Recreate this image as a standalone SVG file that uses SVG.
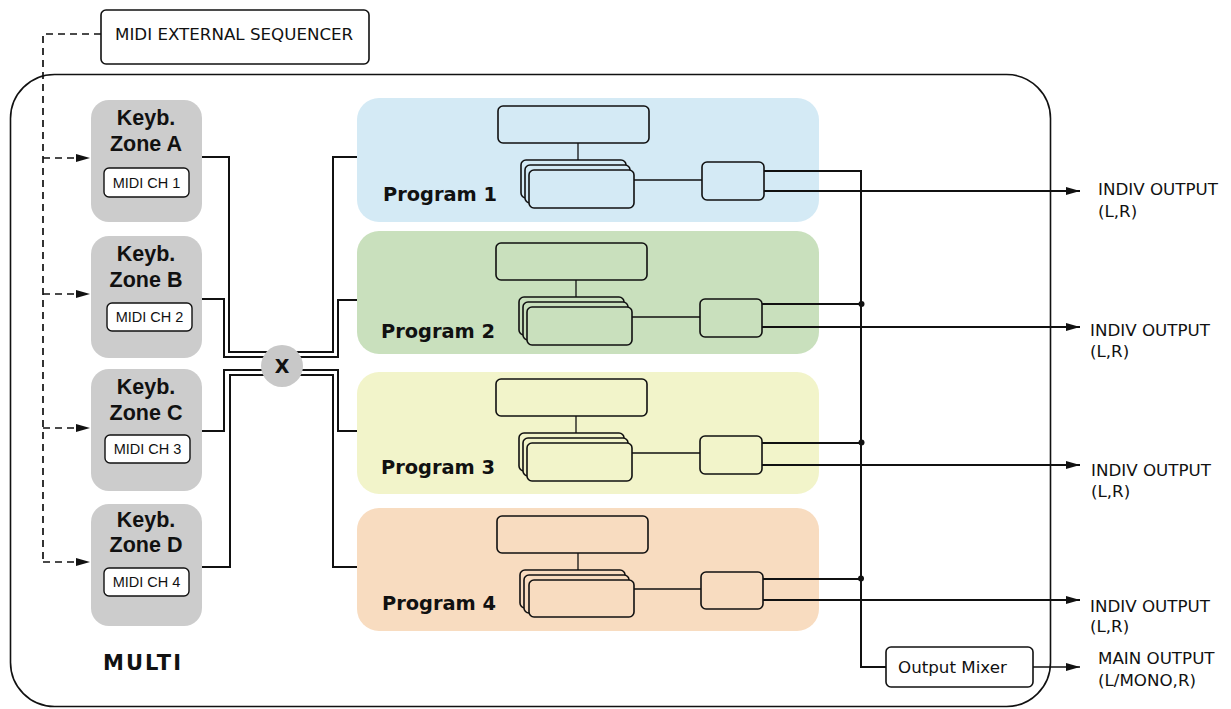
<svg xmlns="http://www.w3.org/2000/svg" width="1231" height="709" viewBox="0 0 1231 709">
<defs>
<style>
.ln{fill:none;stroke:#111;stroke-width:2}
.thin{fill:none;stroke:#111;stroke-width:1.3}
.dash{fill:none;stroke:#111;stroke-width:1.7;stroke-dasharray:7 5}
.box{stroke:#111;stroke-width:1.6}
.zone{fill:#cccccc}
.ch{fill:#fff;stroke:#111;stroke-width:1.4}
.kt{font-family:"Liberation Sans",Arial,sans-serif;font-weight:bold;font-size:21.5px;fill:#111;text-anchor:middle}
.ct{font-family:"Liberation Sans",Arial,sans-serif;font-size:14.5px;fill:#111;text-anchor:middle}
.vt{font-family:"DejaVu Sans",Verdana,sans-serif;font-size:16.7px;fill:#111}
.pt{font-family:"DejaVu Sans",Verdana,sans-serif;font-weight:bold;font-size:19.4px;fill:#111}
</style>
<marker id="ah" viewBox="0 0 14 10" refX="14" refY="5" markerWidth="14" markerHeight="10" markerUnits="userSpaceOnUse" orient="auto">
<path d="M0,1 L14,5 L0,9 Z" fill="#111"/>
</marker>
</defs>
<rect width="1231" height="709" fill="#fff"/>

<g id="multi">
<rect x="10.5" y="74.5" width="1040" height="632" rx="44" ry="44" fill="none" stroke="#111" stroke-width="1.6"/>
<text x="103" y="670" font-family="DejaVu Sans,Verdana,sans-serif" font-weight="bold" font-size="21px" letter-spacing="2" fill="#111">MULTI</text>
</g>

<g id="sequencer">
<rect x="101" y="10" width="268" height="54" rx="5" fill="#fff" stroke="#111" stroke-width="1.6"/>
<text class="vt" x="115" y="40">MIDI EXTERNAL SEQUENCER</text>
</g>

<g id="zoneA">
<rect class="zone" x="91" y="100" width="111" height="122" rx="18"/>
<text class="kt" x="146" y="125">Keyb.</text>
<text class="kt" x="146" y="151">Zone A</text>
<rect class="ch" x="104" y="168" width="85" height="29" rx="5"/>
<text class="ct" x="146.5" y="188">MIDI CH 1</text>
</g>
<g id="zoneB">
<rect class="zone" x="91" y="236" width="111" height="122" rx="18"/>
<text class="kt" x="146" y="261">Keyb.</text>
<text class="kt" x="146" y="287">Zone B</text>
<rect class="ch" x="107" y="303" width="85" height="28" rx="5"/>
<text class="ct" x="149.5" y="322">MIDI CH 2</text>
</g>
<g id="zoneC">
<rect class="zone" x="91" y="369" width="111" height="122" rx="18"/>
<text class="kt" x="146" y="394">Keyb.</text>
<text class="kt" x="146" y="420">Zone C</text>
<rect class="ch" x="105" y="435" width="85" height="28" rx="5"/>
<text class="ct" x="147.5" y="454">MIDI CH 3</text>
</g>
<g id="zoneD">
<rect class="zone" x="91" y="504" width="111" height="122" rx="18"/>
<text class="kt" x="146" y="527">Keyb.</text>
<text class="kt" x="146" y="552">Zone D</text>
<rect class="ch" x="104" y="568" width="85" height="28" rx="5"/>
<text class="ct" x="146.5" y="587">MIDI CH 4</text>
</g>

<g id="program1">
<rect x="357" y="98" width="462" height="124" rx="22" fill="#d4eaf5"/>
<text class="pt" x="383" y="201">Program 1</text>
<g fill="#d4eaf5">
<rect class="box" x="498" y="106" width="151" height="37" rx="5"/>
<line class="thin" x1="578" y1="143" x2="578" y2="160"/>
<rect class="box" x="521" y="160" width="105" height="38" rx="5"/>
<rect class="box" x="525" y="165" width="105" height="38" rx="5"/>
<rect class="box" x="529" y="170" width="105" height="38" rx="5"/>
<line class="thin" x1="634" y1="180" x2="702" y2="180"/>
<rect class="box" x="702" y="162" width="62" height="38" rx="5"/>
</g>
</g>
<g id="program2">
<rect x="357" y="231" width="462" height="123" rx="22" fill="#c9e0bd"/>
<text class="pt" x="381" y="338">Program 2</text>
<g fill="#c9e0bd">
<rect class="box" x="496" y="243" width="151" height="37" rx="5"/>
<line class="thin" x1="576" y1="280" x2="576" y2="297"/>
<rect class="box" x="519" y="297" width="105" height="38" rx="5"/>
<rect class="box" x="523" y="302" width="105" height="38" rx="5"/>
<rect class="box" x="527" y="307" width="105" height="38" rx="5"/>
<line class="thin" x1="632" y1="317" x2="700" y2="317"/>
<rect class="box" x="700" y="299" width="62" height="38" rx="5"/>
</g>
</g>
<g id="program3">
<rect x="357" y="372" width="462" height="122" rx="22" fill="#f2f4ca"/>
<text class="pt" x="381" y="474">Program 3</text>
<g fill="#f2f4ca">
<rect class="box" x="496" y="379" width="151" height="37" rx="5"/>
<line class="thin" x1="576" y1="416" x2="576" y2="433"/>
<rect class="box" x="519" y="433" width="105" height="38" rx="5"/>
<rect class="box" x="523" y="438" width="105" height="38" rx="5"/>
<rect class="box" x="527" y="443" width="105" height="38" rx="5"/>
<line class="thin" x1="632" y1="453" x2="700" y2="453"/>
<rect class="box" x="700" y="436" width="62" height="38" rx="5"/>
</g>
</g>
<g id="program4">
<rect x="357" y="508" width="462" height="123" rx="22" fill="#f8dcc0"/>
<text class="pt" x="382" y="610">Program 4</text>
<g fill="#f8dcc0">
<rect class="box" x="497" y="516" width="151" height="37" rx="5"/>
<line class="thin" x1="578" y1="553" x2="578" y2="570"/>
<rect class="box" x="520" y="570" width="105" height="38" rx="5"/>
<rect class="box" x="524" y="575" width="105" height="38" rx="5"/>
<rect class="box" x="529" y="580" width="105" height="37" rx="5"/>
<line class="thin" x1="634" y1="589" x2="701" y2="589"/>
<rect class="box" x="701" y="572" width="62" height="37" rx="5"/>
</g>
</g>

<g id="connectors">
<polyline class="dash" points="101,34 43,34 43,562"/>
<line class="dash" x1="43" y1="158" x2="90" y2="158" marker-end="url(#ah)"/>
<line class="dash" x1="43" y1="294" x2="90" y2="294" marker-end="url(#ah)"/>
<line class="dash" x1="43" y1="428" x2="90" y2="428" marker-end="url(#ah)"/>
<line class="dash" x1="43" y1="562" x2="90" y2="562" marker-end="url(#ah)"/>
<polyline class="ln" points="202,157 229,157 229,352 282,352"/>
<polyline class="ln" points="202,299 224,299 224,357 282,357"/>
<polyline class="ln" points="202,431 224,431 224,370 282,370"/>
<polyline class="ln" points="202,567 230,567 230,375 282,375"/>
<polyline class="ln" points="282,352 333,352 333,157 357,157"/>
<polyline class="ln" points="282,357 338,357 338,300 357,300"/>
<polyline class="ln" points="282,370 338,370 338,431 357,431"/>
<polyline class="ln" points="282,375 333,375 333,567 357,567"/>
<polyline class="ln" points="764,171 861,171 861,667 886,667"/>
<line class="ln" x1="762" y1="304" x2="861" y2="304"/>
<line class="ln" x1="762" y1="443" x2="861" y2="443"/>
<line class="ln" x1="763" y1="579" x2="861" y2="579"/>
<circle cx="861.5" cy="304" r="3" fill="#111"/>
<circle cx="861.5" cy="442.5" r="3" fill="#111"/>
<circle cx="861" cy="578.5" r="3" fill="#111"/>
<line class="ln" x1="764" y1="191" x2="1080" y2="191" marker-end="url(#ah)"/>
<line class="ln" x1="762" y1="327" x2="1080" y2="327" marker-end="url(#ah)"/>
<line class="ln" x1="762" y1="465" x2="1080" y2="465" marker-end="url(#ah)"/>
<line class="ln" x1="763" y1="600" x2="1080" y2="600" marker-end="url(#ah)"/>
<line class="thin" x1="1033" y1="667" x2="1080" y2="667" stroke-width="1" marker-end="url(#ah)"/>
</g>

<g id="crossbar">
<circle cx="282" cy="366" r="21" fill="#c8c8c8"/>
<text x="282" y="373" font-family="DejaVu Sans,Verdana,sans-serif" font-weight="bold" font-size="19px" text-anchor="middle" fill="#111">X</text>
</g>

<g id="mixer">
<rect x="886" y="647" width="147" height="40" rx="5" fill="#fff" stroke="#111" stroke-width="1.6"/>
<text class="vt" x="898" y="673">Output Mixer</text>
</g>

<g id="labels">
<text class="vt" x="1098" y="195">INDIV OUTPUT</text>
<text class="vt" x="1098" y="217">(L,R)</text>
<text class="vt" x="1090" y="336">INDIV OUTPUT</text>
<text class="vt" x="1090" y="357">(L,R)</text>
<text class="vt" x="1091" y="476">INDIV OUTPUT</text>
<text class="vt" x="1091" y="497">(L,R)</text>
<text class="vt" x="1090" y="612">INDIV OUTPUT</text>
<text class="vt" x="1090" y="632">(L,R)</text>
<text class="vt" x="1098" y="664">MAIN OUTPUT</text>
<text class="vt" x="1098" y="686">(L/MONO,R)</text>
</g>
</svg>
